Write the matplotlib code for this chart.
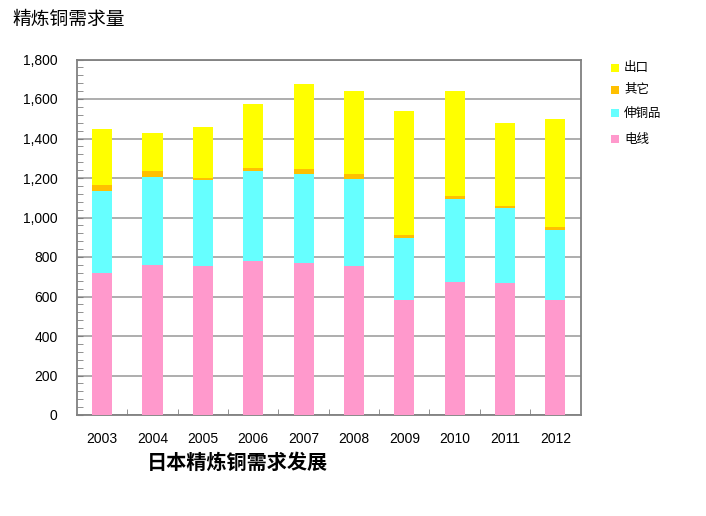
import matplotlib
matplotlib.use("Agg")
import matplotlib.pyplot as plt
from matplotlib.ticker import MultipleLocator, FuncFormatter
from matplotlib.patches import Rectangle

plt.rcParams['font.family'] = ['Liberation Sans', 'Noto Sans CJK SC', 'DejaVu Sans']

years = ['2003', '2004', '2005', '2006', '2007', '2008', '2009', '2010', '2011', '2012']
wire = [718, 760, 752, 780, 770, 752, 581, 674, 669, 581]          # 电线
brass = [416, 445, 436, 454, 452, 441, 314, 420, 378, 354]         # 伸铜品
other = [29, 29, 12, 16, 24, 27, 17, 15, 11, 17]                   # 其它
export = [286, 193, 258, 324, 428, 423, 625, 529, 423, 545]        # 出口

series = [
    ('电线', wire, '#FF99CC'),
    ('伸铜品', brass, '#66FFFF'),
    ('其它', other, '#FFC000'),
    ('出口', export, '#FFFF00'),
]

W, H = 706, 516
fig = plt.figure(figsize=(W / 100, H / 100), dpi=100)
ax = fig.add_axes([77 / W, 1 - 415 / H, (580.5 - 77) / W, (415 - 59.5) / H])

x = list(range(len(years)))
bottom = [0] * len(years)
for name, vals, col in series:
    ax.bar(x, vals, width=0.4, bottom=bottom, color=col, edgecolor='none', zorder=3)
    bottom = [bb + v for bb, v in zip(bottom, vals)]

ax.set_xlim(-0.5, len(years) - 0.5)
ax.set_ylim(0, 1800)
ax.yaxis.set_major_locator(MultipleLocator(200))
ax.yaxis.set_minor_locator(MultipleLocator(40))
ax.yaxis.set_major_formatter(FuncFormatter(lambda v, p: f'{int(v):,}'))
ax.grid(axis='y', which='major', color='#A0A0A0', linewidth=1.2, zorder=1)

ax.set_xticks(x)
ax.set_xticklabels(years, fontsize=10)
ax.set_xticks([i + 0.5 for i in range(len(years) - 1)], minor=True)
ax.tick_params(axis='x', which='major', length=0, pad=12)
ax.tick_params(axis='x', which='minor', direction='in', length=4, color='#808080')
ax.tick_params(axis='y', which='major', direction='in', length=4, color='#808080', labelsize=10, pad=14)
ax.tick_params(axis='y', which='minor', direction='in', length=4, color='#808080')

for s in ax.spines.values():
    s.set_color('#808080')
    s.set_linewidth(1.3)

# Legend (outside right)
leg_items = [('出口', '#FFFF00', 68), ('其它', '#FFC000', 90), ('伸铜品', '#66FFFF', 113), ('电线', '#FF99CC', 139)]
for name, col, yy in leg_items:
    fig.patches.append(Rectangle((611 / W, 1 - (yy + 4) / H), 8 / W, 8 / H,
                                 transform=fig.transFigure, facecolor=col, edgecolor='none'))
    fig.text(624 / W, 1 - yy / H, name, fontsize=9, va='center', ha='left',
             family=['Noto Sans CJK SC', 'DejaVu Sans'])

fig.text(12 / W, 1 - 19 / H, '精炼铜需求量', fontsize=13.5, va='center', ha='left',
         family=['Noto Sans CJK SC', 'DejaVu Sans'])
fig.text(237 / W, 1 - 462 / H, '日本精炼铜需求发展', fontsize=14.5, va='center', ha='center',
         fontweight='bold', family=['Noto Sans CJK SC', 'DejaVu Sans'])

fig.savefig('out.png', dpi=100)
